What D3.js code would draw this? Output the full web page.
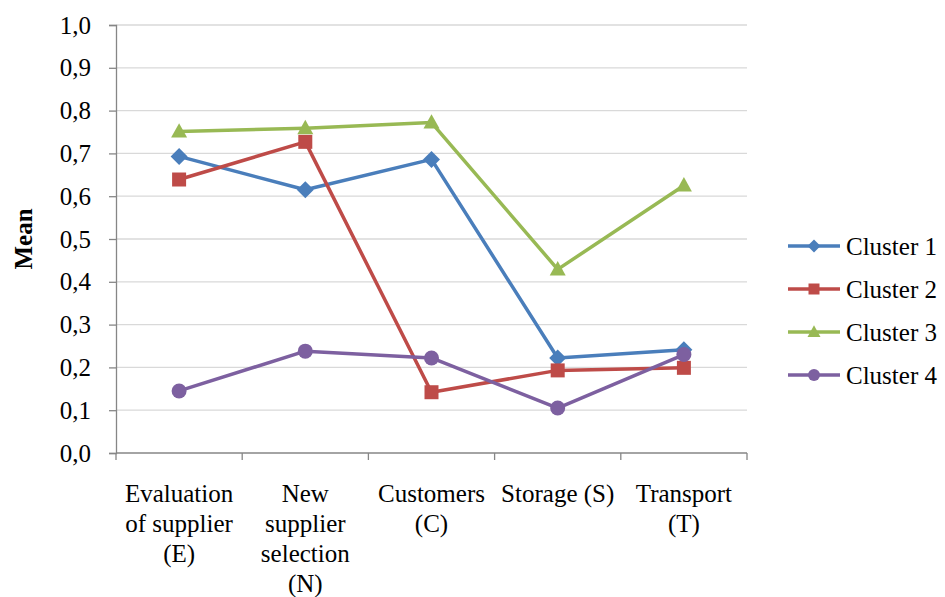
<!DOCTYPE html>
<html>
<head>
<meta charset="utf-8">
<script src="https://cdn.jsdelivr.net/npm/d3@7"></script>
<style>
  html, body { margin: 0; padding: 0; background: #fff; }
</style>
</head>
<body>
<svg id="chart" width="945" height="597"></svg>
<script>
// Category labels (multi-line) along the x axis
const categories = [
  ["Evaluation", "of supplier", "(E)"],
  ["New", "supplier", "selection", "(N)"],
  ["Customers", "(C)"],
  ["Storage (S)"],
  ["Transport", "(T)"]
];
const seriesNames = ["Cluster 1", "Cluster 2", "Cluster 3", "Cluster 4"];
const cluster1 = [0.693, 0.615, 0.686, 0.222, 0.241];
const cluster2 = [0.639, 0.727, 0.142, 0.193, 0.199];
const cluster3 = [0.751, 0.759, 0.772, 0.429, 0.625];
const cluster4 = [0.145, 0.238, 0.222, 0.105, 0.230];
const yTicks = [0, 0.1, 0.2, 0.3, 0.4, 0.5, 0.6, 0.7, 0.8, 0.9, 1.0];

const colors = ["#4A7EBB", "#BE4B48", "#98B954", "#7D60A0"];
const seriesValues = [cluster1, cluster2, cluster3, cluster4];
const FONT = '"Liberation Serif"';
const FS = "25px";

// Marker shapes, r = half extent
const markerPath = [
  r => `M0,${-r}L${r},0L0,${r}L${-r},0Z`,                                   // diamond
  r => `M${-r},${-r}H${r}V${r}H${-r}Z`,                                     // square
  r => `M0,${-r * 1.05}L${r},${r * 0.75}L${-r},${r * 0.75}Z`,               // triangle
  r => `M${r},0A${r},${r} 0 1,1 ${-r},0A${r},${r} 0 1,1 ${r},0Z`            // circle
];
const plotR = [8.5, 7, 8, 7.5];
const legendR = [6.5, 5.5, 6.5, 6];

const svg = d3.select("#chart");
const plotLeft = 116, plotRight = 747, plotTop = 25, plotBottom = 453;

const x = d3.scaleBand().domain(d3.range(categories.length)).range([plotLeft, plotRight]);
const y = d3.scaleLinear().domain([0, 1]).range([plotBottom, plotTop]);

// Horizontal gridlines
svg.append("g").selectAll("line").data(yTicks.slice(1)).join("line")
  .attr("x1", plotLeft).attr("x2", plotRight)
  .attr("y1", d => y(d)).attr("y2", d => y(d))
  .attr("stroke", "#d9d9d9").attr("stroke-width", 1.3);

// Y axis
const yAxis = svg.append("g").attr("transform", `translate(${plotLeft},0)`)
  .call(d3.axisLeft(y).tickValues(yTicks).tickSize(7).tickPadding(18)
    .tickFormat(d => d3.format(".1f")(d).replace(".", ",")));
yAxis.attr("font-family", null).attr("font-size", null);
yAxis.select(".domain").attr("stroke", "#868686").attr("stroke-width", 1.3);
yAxis.selectAll(".tick line").attr("stroke", "#868686").attr("stroke-width", 1.3);
yAxis.selectAll(".tick text").style("font-family", FONT).style("font-size", FS).attr("fill", "#000");

// X axis: baseline with ticks at band boundaries
const bounds = d3.range(categories.length + 1).map(i => plotLeft + i * x.bandwidth());
svg.append("line").attr("x1", plotLeft).attr("x2", plotRight).attr("y1", plotBottom).attr("y2", plotBottom)
  .attr("stroke", "#868686").attr("stroke-width", 1.3);
svg.append("g").selectAll("line").data(bounds).join("line")
  .attr("x1", d => d).attr("x2", d => d).attr("y1", plotBottom).attr("y2", plotBottom + 7)
  .attr("stroke", "#868686").attr("stroke-width", 1.3);

// Category labels
const cx = i => x(i) + x.bandwidth() / 2;
categories.forEach((lines, i) => {
  const t = svg.append("text").attr("text-anchor", "middle")
    .style("font-family", FONT).style("font-size", FS);
  lines.forEach((ln, j) => {
    t.append("tspan").attr("x", cx(i)).attr("y", 502 + j * 30).text(ln);
  });
});

// Y axis title
svg.append("text")
  .attr("transform", `translate(32,${(plotTop + plotBottom) / 2}) rotate(-90)`)
  .attr("text-anchor", "middle")
  .style("font-family", FONT)
  .style("font-size", FS).style("font-weight", "bold")
  .text("Mean");

// Series lines and markers
const line = d3.line().x((d, i) => cx(i)).y(d => y(d));
seriesValues.forEach((vals, s) => {
  svg.append("path").datum(vals)
    .attr("fill", "none").attr("stroke", colors[s]).attr("stroke-width", 3.5)
    .attr("stroke-linejoin", "round")
    .attr("d", line);
  svg.append("g").selectAll("path").data(vals).join("path")
    .attr("transform", (d, i) => `translate(${cx(i)},${y(d)})`)
    .attr("d", markerPath[s](plotR[s]))
    .attr("fill", colors[s]);
});

// Legend
const legendY = [246, 289, 332, 375];
seriesNames.forEach((name, s) => {
  const g = svg.append("g").attr("transform", `translate(788,${legendY[s]})`);
  g.append("line").attr("x1", 0).attr("x2", 52).attr("y1", 0).attr("y2", 0)
    .attr("stroke", colors[s]).attr("stroke-width", 3.5);
  g.append("path").attr("transform", "translate(26,0)")
    .attr("d", markerPath[s](legendR[s]))
    .attr("fill", colors[s]);
  g.append("text").attr("x", 58).attr("y", 9)
    .style("font-family", FONT).style("font-size", FS).text(name);
});
</script>
</body>
</html>
